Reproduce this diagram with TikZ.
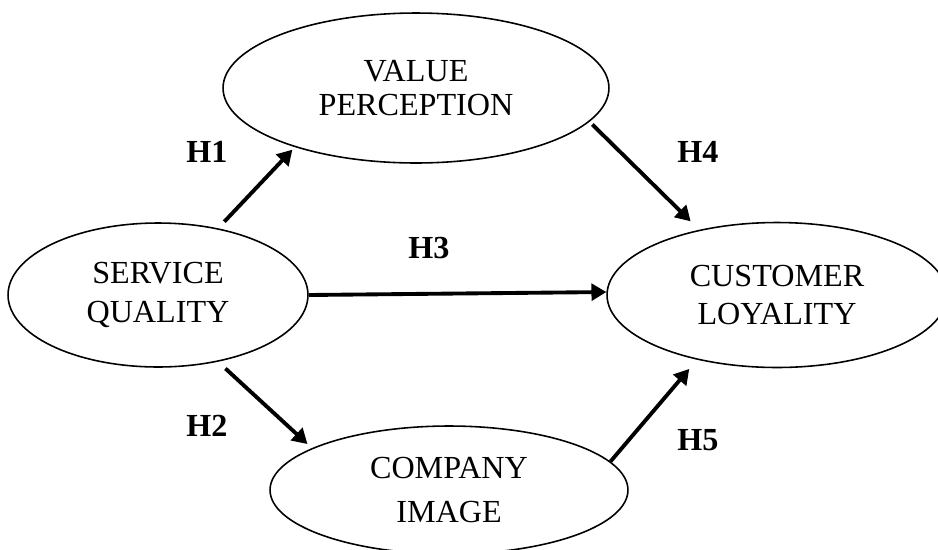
\documentclass[tikz,border=0pt]{standalone}
\usepackage{fontspec}
\setmainfont{Liberation Serif}
\usetikzlibrary{arrows.meta,shapes.geometric}
\begin{document}
\begin{tikzpicture}[x=0.02cm,y=-0.02cm,
    construct/.style={draw,ellipse,line width=0.9pt,inner sep=0pt,align=center,
      font=\fontsize{18.3}{22}\selectfont},
    hyp/.style={font=\fontsize{18.3}{22}\selectfont\bfseries},
    link/.style={-{Triangle[length=8.5pt,width=9.5pt]},line width=2.2pt}]
      \useasboundingbox (0,0) rectangle (938,549);
      \draw
        (416,88) node[construct,minimum width=7.72cm,minimum height=3cm] (vp){VALUE\\[-3pt]PERCEPTION}
        (158,295) node[construct,minimum width=6cm,minimum height=2.88cm] (sq){SERVICE\\QUALITY}
        (777,295) node[construct,minimum width=6.8cm,minimum height=2.9cm] (cl){CUSTOMER\\LOYALITY}
        (449,490) node[construct,minimum width=7.16cm,minimum height=2.56cm] (ci){COMPANY\\[3pt]IMAGE};
      \draw
        (207,152) node[hyp] (h1){H1}
        (207,426) node[hyp] (h2){H2}
        (429,248) node[hyp] (h3){H3}
        (698,152) node[hyp] (h4){H4}
        (698,440) node[hyp] (h5){H5};
      \begin{scope}[link]
        \draw[shorten <=0.18cm,shorten >=0.07cm] (sq.48.7) to (vp.206.9);
        \draw[shorten <=0.2cm,shorten >=0.12cm] (sq.312) to (ci.163.5);
        \draw (sq.-0.8) to (cl.179);
        \draw[shorten <=0.08cm,shorten >=0.24cm] (vp.349.9) to (cl.140.7);
        \draw[shorten >=0.24cm] (ci.10.7) to (cl.219.1);
      \end{scope}
    \end{tikzpicture}
\end{document}
